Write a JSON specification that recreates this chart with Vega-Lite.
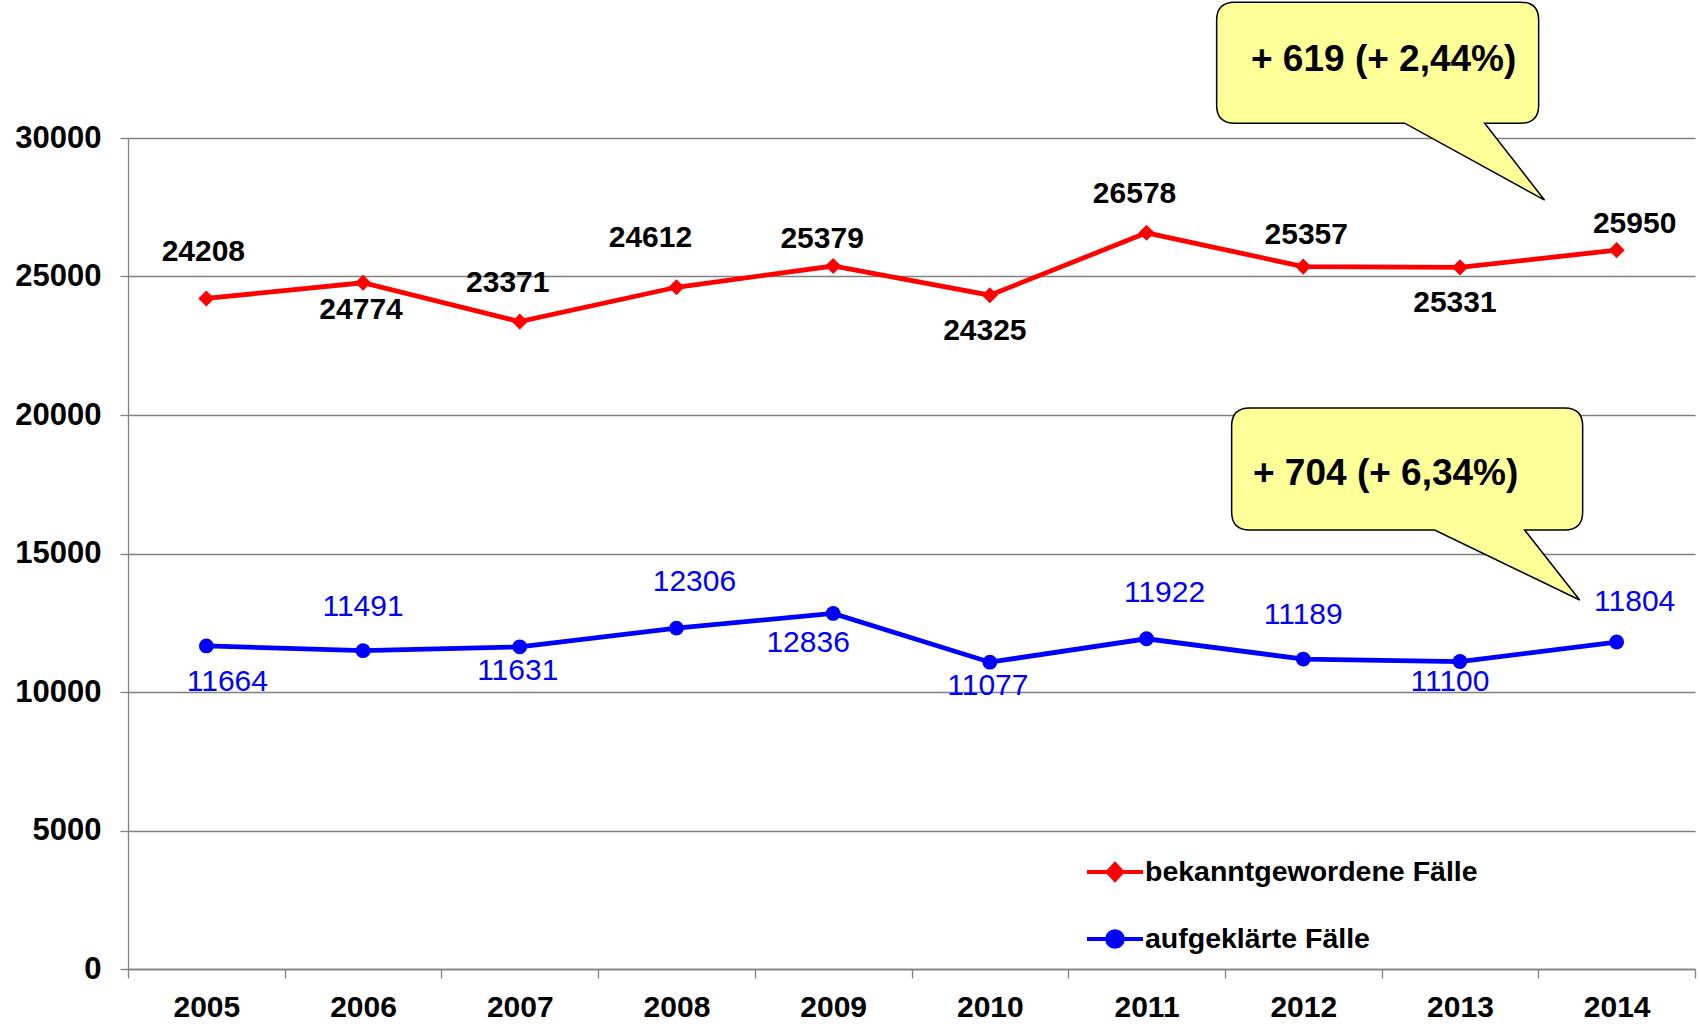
{
  "$schema": "https://vega.github.io/schema/vega-lite/v6.json",
  "width": 1567,
  "height": 831,
  "autosize": {"type": "none"},
  "padding": {"left": 128, "top": 138, "right": 5, "bottom": 61},
  "background": "white",
  "config": {
    "view": {"stroke": null},
    "font": "Liberation Sans",
    "axis": {
      "labelFont": "Liberation Sans",
      "labelFontSize": 30,
      "labelFontWeight": "bold",
      "labelColor": "#000000",
      "domainColor": "#808080",
      "domainWidth": 1.3,
      "tickColor": "#808080",
      "tickWidth": 1.3,
      "gridColor": "#808080",
      "gridWidth": 1.3,
      "title": null
    }
  },
  "datasets": {
    "cases": [
      {"year": 2005, "series": "bekanntgewordene Fälle", "value": 24208},
      {"year": 2006, "series": "bekanntgewordene Fälle", "value": 24774},
      {"year": 2007, "series": "bekanntgewordene Fälle", "value": 23371},
      {"year": 2008, "series": "bekanntgewordene Fälle", "value": 24612},
      {"year": 2009, "series": "bekanntgewordene Fälle", "value": 25379},
      {"year": 2010, "series": "bekanntgewordene Fälle", "value": 24325},
      {"year": 2011, "series": "bekanntgewordene Fälle", "value": 26578},
      {"year": 2012, "series": "bekanntgewordene Fälle", "value": 25357},
      {"year": 2013, "series": "bekanntgewordene Fälle", "value": 25331},
      {"year": 2014, "series": "bekanntgewordene Fälle", "value": 25950},
      {"year": 2005, "series": "aufgeklärte Fälle", "value": 11664},
      {"year": 2006, "series": "aufgeklärte Fälle", "value": 11491},
      {"year": 2007, "series": "aufgeklärte Fälle", "value": 11631},
      {"year": 2008, "series": "aufgeklärte Fälle", "value": 12306},
      {"year": 2009, "series": "aufgeklärte Fälle", "value": 12836},
      {"year": 2010, "series": "aufgeklärte Fälle", "value": 11077},
      {"year": 2011, "series": "aufgeklärte Fälle", "value": 11922},
      {"year": 2012, "series": "aufgeklärte Fälle", "value": 11189},
      {"year": 2013, "series": "aufgeklärte Fälle", "value": 11100},
      {"year": 2014, "series": "aufgeklärte Fälle", "value": 11804}
    ],
    "notes": [
      {"year": 2014, "series": "bekanntgewordene Fälle", "value": 25950, "note": "+ 619 (+ 2,44%)"},
      {"year": 2014, "series": "aufgeklärte Fälle", "value": 11804, "note": "+ 704 (+ 6,34%)"}
    ]
  },
  "layer": [
    {
      "data": {"name": "cases"},
      "mark": {"type": "line", "strokeWidth": 4.8},
      "encoding": {
        "x": {
          "field": "year", "type": "ordinal",
          "scale": {"type": "band", "paddingInner": 0, "paddingOuter": 0},
          "axis": {"orient": "bottom", "labelAngle": 0, "tickBand": "extent", "tickSize": 9, "labelPadding": 14, "grid": false}
        },
        "y": {
          "field": "value", "type": "quantitative",
          "scale": {"domain": [0, 30000], "nice": false, "zero": true},
          "axis": {"values": [0, 5000, 10000, 15000, 20000, 25000, 30000], "format": "d", "tickSize": 8, "labelPadding": 19, "labelFontSize": 31, "grid": true}
        },
        "color": {
          "field": "series", "type": "nominal",
          "scale": {"domain": ["bekanntgewordene Fälle", "aufgeklärte Fälle"], "range": ["#FF0000", "#0000FF"]},
          "legend": {
            "title": null,
            "orient": "none",
            "legendX": 957,
            "legendY": 704,
            "padding": 0,
            "symbolSize": 3136,
            "labelFont": "Liberation Sans",
            "labelFontSize": 28.5,
            "labelFontWeight": "bold",
            "labelColor": "#000000",
            "labelOffset": 0,
            "rowPadding": 21,
            "labelLimit": 800,
            "encode": {
              "symbols": {
                "update": {
                  "shape": {"signal": "datum.value === 'bekanntgewordene Fälle' ? 'M -1 0 L 1 0 M 0 -0.28 L 0.26 0 L 0 0.28 L -0.26 0 Z' : 'M -1 0 L 1 0 M 0.28 0 C 0.28 0.155 0.155 0.28 0 0.28 C -0.155 0.28 -0.28 0.155 -0.28 0 C -0.28 -0.155 -0.155 -0.28 0 -0.28 C 0.155 -0.28 0.28 -0.155 0.28 0 Z'"},
                  "fill": {"scale": "color", "field": "value"},
                  "stroke": {"scale": "color", "field": "value"},
                  "strokeWidth": {"value": 4},
                  "opacity": {"value": 1}
                }
              }
            }
          }
        }
      }
    },
    {
      "data": {"name": "cases"},
      "transform": [{"filter": {"field": "series", "equal": "bekanntgewordene Fälle"}}],
      "mark": {"type": "point", "shape": "diamond", "size": 260, "filled": true, "color": "#FF0000", "opacity": 1},
      "encoding": {
        "x": {"field": "year", "type": "ordinal"},
        "y": {"field": "value", "type": "quantitative"}
      }
    },
    {
      "data": {"name": "cases"},
      "transform": [{"filter": {"field": "series", "equal": "aufgeklärte Fälle"}}],
      "mark": {"type": "point", "shape": "circle", "size": 220, "filled": true, "color": "#0000FF", "opacity": 1},
      "encoding": {
        "x": {"field": "year", "type": "ordinal"},
        "y": {"field": "value", "type": "quantitative"}
      }
    },
    {
      "data": {"name": "cases"},
      "transform": [{"filter": {"and": [{"field": "series", "equal": "bekanntgewordene Fälle"}, {"field": "year", "oneOf": [2005]}]}}],
      "mark": {"type": "text", "font": "Liberation Sans", "fontSize": 30, "fontWeight": "bold", "color": "#000000", "baseline": "middle", "align": "center", "dx": -3, "dy": -46},
      "encoding": {"x": {"field": "year", "type": "ordinal"}, "y": {"field": "value", "type": "quantitative"}, "text": {"field": "value", "type": "quantitative", "format": "d"}}
    },
    {
      "data": {"name": "cases"},
      "transform": [{"filter": {"and": [{"field": "series", "equal": "bekanntgewordene Fälle"}, {"field": "year", "oneOf": [2008]}]}}],
      "mark": {"type": "text", "font": "Liberation Sans", "fontSize": 30, "fontWeight": "bold", "color": "#000000", "baseline": "middle", "align": "center", "dx": -26, "dy": -49},
      "encoding": {"x": {"field": "year", "type": "ordinal"}, "y": {"field": "value", "type": "quantitative"}, "text": {"field": "value", "type": "quantitative", "format": "d"}}
    },
    {
      "data": {"name": "cases"},
      "transform": [{"filter": {"and": [{"field": "series", "equal": "bekanntgewordene Fälle"}, {"field": "year", "oneOf": [2007, 2011]}]}}],
      "mark": {"type": "text", "font": "Liberation Sans", "fontSize": 30, "fontWeight": "bold", "color": "#000000", "baseline": "middle", "align": "center", "dx": -12, "dy": -39},
      "encoding": {"x": {"field": "year", "type": "ordinal"}, "y": {"field": "value", "type": "quantitative"}, "text": {"field": "value", "type": "quantitative", "format": "d"}}
    },
    {
      "data": {"name": "cases"},
      "transform": [{"filter": {"and": [{"field": "series", "equal": "bekanntgewordene Fälle"}, {"field": "year", "oneOf": [2009]}]}}],
      "mark": {"type": "text", "font": "Liberation Sans", "fontSize": 30, "fontWeight": "bold", "color": "#000000", "baseline": "middle", "align": "center", "dx": -11, "dy": -27},
      "encoding": {"x": {"field": "year", "type": "ordinal"}, "y": {"field": "value", "type": "quantitative"}, "text": {"field": "value", "type": "quantitative", "format": "d"}}
    },
    {
      "data": {"name": "cases"},
      "transform": [{"filter": {"and": [{"field": "series", "equal": "bekanntgewordene Fälle"}, {"field": "year", "oneOf": [2012]}]}}],
      "mark": {"type": "text", "font": "Liberation Sans", "fontSize": 30, "fontWeight": "bold", "color": "#000000", "baseline": "middle", "align": "center", "dx": 3, "dy": -32},
      "encoding": {"x": {"field": "year", "type": "ordinal"}, "y": {"field": "value", "type": "quantitative"}, "text": {"field": "value", "type": "quantitative", "format": "d"}}
    },
    {
      "data": {"name": "cases"},
      "transform": [{"filter": {"and": [{"field": "series", "equal": "bekanntgewordene Fälle"}, {"field": "year", "oneOf": [2014]}]}}],
      "mark": {"type": "text", "font": "Liberation Sans", "fontSize": 30, "fontWeight": "bold", "color": "#000000", "baseline": "middle", "align": "center", "dx": 18, "dy": -26},
      "encoding": {"x": {"field": "year", "type": "ordinal"}, "y": {"field": "value", "type": "quantitative"}, "text": {"field": "value", "type": "quantitative", "format": "d"}}
    },
    {
      "data": {"name": "cases"},
      "transform": [{"filter": {"and": [{"field": "series", "equal": "bekanntgewordene Fälle"}, {"field": "year", "oneOf": [2006]}]}}],
      "mark": {"type": "text", "font": "Liberation Sans", "fontSize": 30, "fontWeight": "bold", "color": "#000000", "baseline": "middle", "align": "center", "dx": -2, "dy": 27},
      "encoding": {"x": {"field": "year", "type": "ordinal"}, "y": {"field": "value", "type": "quantitative"}, "text": {"field": "value", "type": "quantitative", "format": "d"}}
    },
    {
      "data": {"name": "cases"},
      "transform": [{"filter": {"and": [{"field": "series", "equal": "bekanntgewordene Fälle"}, {"field": "year", "oneOf": [2010, 2013]}]}}],
      "mark": {"type": "text", "font": "Liberation Sans", "fontSize": 30, "fontWeight": "bold", "color": "#000000", "baseline": "middle", "align": "center", "dx": -5, "dy": 36},
      "encoding": {"x": {"field": "year", "type": "ordinal"}, "y": {"field": "value", "type": "quantitative"}, "text": {"field": "value", "type": "quantitative", "format": "d"}}
    },
    {
      "data": {"name": "cases"},
      "transform": [{"filter": {"and": [{"field": "series", "equal": "aufgeklärte Fälle"}, {"field": "year", "oneOf": [2005]}]}}],
      "mark": {"type": "text", "font": "Liberation Sans", "fontSize": 30, "color": "#0000FF", "baseline": "middle", "align": "center", "dx": 21, "dy": 36},
      "encoding": {"x": {"field": "year", "type": "ordinal"}, "y": {"field": "value", "type": "quantitative"}, "text": {"field": "value", "type": "quantitative", "format": "d"}}
    },
    {
      "data": {"name": "cases"},
      "transform": [{"filter": {"and": [{"field": "series", "equal": "aufgeklärte Fälle"}, {"field": "year", "oneOf": [2006, 2012]}]}}],
      "mark": {"type": "text", "font": "Liberation Sans", "fontSize": 30, "color": "#0000FF", "baseline": "middle", "align": "center", "dx": 0, "dy": -44},
      "encoding": {"x": {"field": "year", "type": "ordinal"}, "y": {"field": "value", "type": "quantitative"}, "text": {"field": "value", "type": "quantitative", "format": "d"}}
    },
    {
      "data": {"name": "cases"},
      "transform": [{"filter": {"and": [{"field": "series", "equal": "aufgeklärte Fälle"}, {"field": "year", "oneOf": [2008, 2011]}]}}],
      "mark": {"type": "text", "font": "Liberation Sans", "fontSize": 30, "color": "#0000FF", "baseline": "middle", "align": "center", "dx": 18, "dy": -46},
      "encoding": {"x": {"field": "year", "type": "ordinal"}, "y": {"field": "value", "type": "quantitative"}, "text": {"field": "value", "type": "quantitative", "format": "d"}}
    },
    {
      "data": {"name": "cases"},
      "transform": [{"filter": {"and": [{"field": "series", "equal": "aufgeklärte Fälle"}, {"field": "year", "oneOf": [2014]}]}}],
      "mark": {"type": "text", "font": "Liberation Sans", "fontSize": 30, "color": "#0000FF", "baseline": "middle", "align": "center", "dx": 18, "dy": -40},
      "encoding": {"x": {"field": "year", "type": "ordinal"}, "y": {"field": "value", "type": "quantitative"}, "text": {"field": "value", "type": "quantitative", "format": "d"}}
    },
    {
      "data": {"name": "cases"},
      "transform": [{"filter": {"and": [{"field": "series", "equal": "aufgeklärte Fälle"}, {"field": "year", "oneOf": [2007, 2010]}]}}],
      "mark": {"type": "text", "font": "Liberation Sans", "fontSize": 30, "color": "#0000FF", "baseline": "middle", "align": "center", "dx": -2, "dy": 24},
      "encoding": {"x": {"field": "year", "type": "ordinal"}, "y": {"field": "value", "type": "quantitative"}, "text": {"field": "value", "type": "quantitative", "format": "d"}}
    },
    {
      "data": {"name": "cases"},
      "transform": [{"filter": {"and": [{"field": "series", "equal": "aufgeklärte Fälle"}, {"field": "year", "oneOf": [2009]}]}}],
      "mark": {"type": "text", "font": "Liberation Sans", "fontSize": 30, "color": "#0000FF", "baseline": "middle", "align": "center", "dx": -25, "dy": 30},
      "encoding": {"x": {"field": "year", "type": "ordinal"}, "y": {"field": "value", "type": "quantitative"}, "text": {"field": "value", "type": "quantitative", "format": "d"}}
    },
    {
      "data": {"name": "cases"},
      "transform": [{"filter": {"and": [{"field": "series", "equal": "aufgeklärte Fälle"}, {"field": "year", "oneOf": [2013]}]}}],
      "mark": {"type": "text", "font": "Liberation Sans", "fontSize": 30, "color": "#0000FF", "baseline": "middle", "align": "center", "dx": -10, "dy": 20},
      "encoding": {"x": {"field": "year", "type": "ordinal"}, "y": {"field": "value", "type": "quantitative"}, "text": {"field": "value", "type": "quantitative", "format": "d"}}
    },
    {
      "data": {"name": "notes"},
      "transform": [{"filter": {"field": "series", "equal": "bekanntgewordene Fälle"}}],
      "mark": {"type": "point", "shape": "M -382 -248 L -96 -248 Q -78 -248 -78 -230 L -78 -145 Q -78 -127 -96 -127 L -132 -127 L -72 -50 L -212 -127 L -382 -127 Q -400 -127 -400 -145 L -400 -230 Q -400 -248 -382 -248 Z", "size": 4, "filled": true, "fill": "#FFFF99", "stroke": "#000000", "strokeWidth": 1.5, "opacity": 1},
      "encoding": {"x": {"field": "year", "type": "ordinal"}, "y": {"field": "value", "type": "quantitative"}}
    },
    {
      "data": {"name": "notes"},
      "transform": [{"filter": {"field": "series", "equal": "aufgeklärte Fälle"}}],
      "mark": {"type": "point", "shape": "M -367 -234 L -52 -234 Q -34 -234 -34 -216 L -34 -130 Q -34 -112 -52 -112 L -92 -112 L -37 -42 L -182 -112 L -367 -112 Q -385 -112 -385 -130 L -385 -216 Q -385 -234 -367 -234 Z", "size": 4, "filled": true, "fill": "#FFFF99", "stroke": "#000000", "strokeWidth": 1.5, "opacity": 1},
      "encoding": {"x": {"field": "year", "type": "ordinal"}, "y": {"field": "value", "type": "quantitative"}}
    },
    {
      "data": {"name": "notes"},
      "transform": [{"filter": {"field": "series", "equal": "bekanntgewordene Fälle"}}],
      "mark": {"type": "text", "font": "Liberation Sans", "fontSize": 37, "fontWeight": "bold", "color": "#000000", "baseline": "middle", "align": "center", "dx": -233, "dy": -190},
      "encoding": {"x": {"field": "year", "type": "ordinal"}, "y": {"field": "value", "type": "quantitative"}, "text": {"field": "note", "type": "nominal"}}
    },
    {
      "data": {"name": "notes"},
      "transform": [{"filter": {"field": "series", "equal": "aufgeklärte Fälle"}}],
      "mark": {"type": "text", "font": "Liberation Sans", "fontSize": 37, "fontWeight": "bold", "color": "#000000", "baseline": "middle", "align": "center", "dx": -231, "dy": -168},
      "encoding": {"x": {"field": "year", "type": "ordinal"}, "y": {"field": "value", "type": "quantitative"}, "text": {"field": "note", "type": "nominal"}}
    }
  ]
}
